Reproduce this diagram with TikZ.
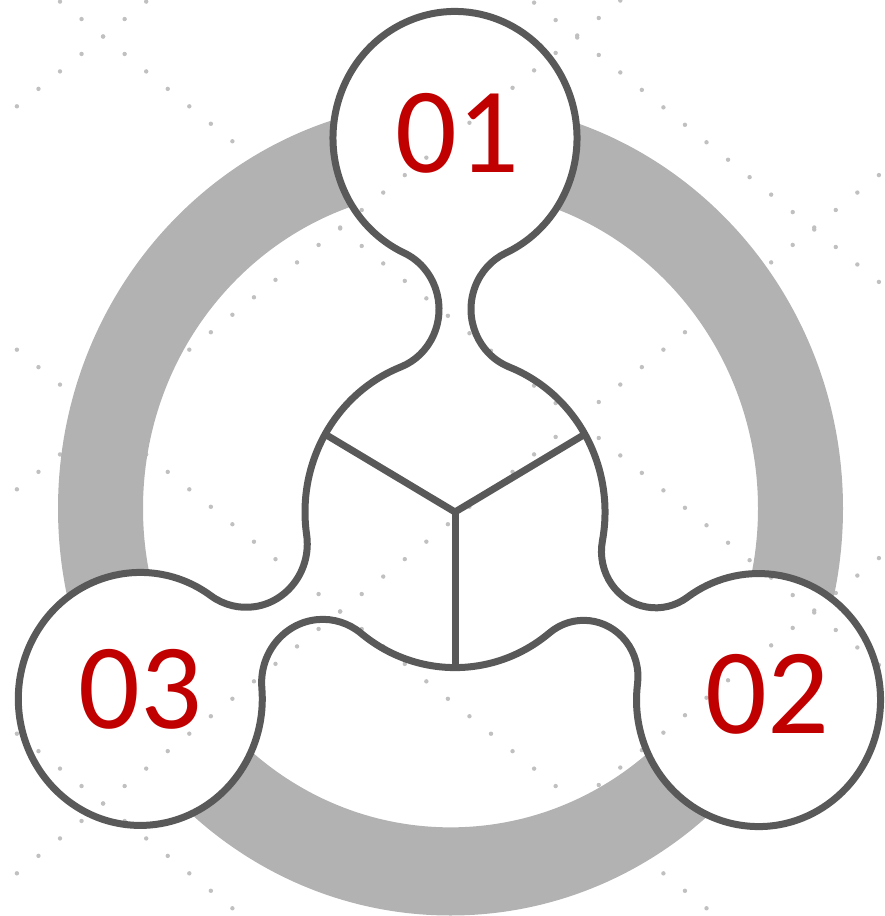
\documentclass[tikz,border=0pt]{standalone}
\usepackage{fontspec}
\setmainfont{Carlito}
\definecolor{ringgray}{RGB}{178,178,178}
\definecolor{linegray}{RGB}{89,89,89}
\definecolor{numred}{RGB}{192,0,0}
\definecolor{dotgray}{RGB}{192,192,192}
\tikzset{
  outline/.style={draw=linegray, line width=7pt},
  bgdot/.style={fill=dotgray},
  numtext/.style={text=numred, font=\fontsize{122}{122}\selectfont, inner sep=0pt, anchor=base}
}
\begin{document}
\begin{tikzpicture}[x=1pt,y=1pt]
\useasboundingbox (0,0) rectangle (884,-916);
\clip (0,0) rectangle (884,-916);
% background dotted lattice
\foreach \c in {-430,-47,336,720}{
  \foreach \n in {-3,...,39}{
    \fill[bgdot] ({60+21.55*\n},{-(\c+0.81*(60+21.55*\n))}) circle (2.2);
  }
}
\foreach \d in {120,503,887,1270}{
  \foreach \n in {-3,...,39}{
    \fill[bgdot] ({60+21.55*\n},{-(\d-0.81*(60+21.55*\n))}) circle (2.2);
  }
}
\begin{scope}[shift={(455,-512)}, yscale=1.037]
  \coordinate (ctr) at (0,0);
  \coordinate (c1) at (90:360.7);
  \coordinate (c3) at (209.8:362.7);
  \coordinate (c2) at (-30.85:353.5);
  \coordinate (ringc) at (-4.5,3.4);
  % ring, hidden inside the three circles
  \begin{scope}[even odd rule]
    \clip (-1000,-1000) rectangle (1000,1000)
      (c1) circle (122) (c2) circle (122) (c3) circle (122);
    \fill[ringgray] (ringc) circle (392.5) (ringc) circle (307.5);
  \end{scope}
  % blob outline
  \draw[outline] (68.84:150)
    % arm 01
    arc[start angle=248.84, end angle=114.62, radius=59.68]
    arc[start angle=-65.38, end angle=245.38, radius=122]
    arc[start angle=65.38, end angle=-68.84, radius=59.68]
    arc[start angle=111.16, end angle=188.37, radius=150]
    % arm 03
    arc[start angle=368.37, end angle=234.72, radius=61.17]
    arc[start angle=54.72, end angle=364.88, radius=122]
    arc[start angle=184.88, end angle=51.23, radius=61.17]
    arc[start angle=231.23, end angle=309.02, radius=150]
    % arm 02
    arc[start angle=489.02, end angle=352.65, radius=54.32]
    arc[start angle=172.65, end angle=485.65, radius=122]
    arc[start angle=305.65, end angle=169.28, radius=54.32]
    arc[start angle=349.28, end angle=428.84, radius=150]
    -- cycle;
  \coordinate (y1) at (150:150);
  \coordinate (y2) at (30:150);
  \coordinate (y3) at (270:150);
  \draw[outline] (ctr) -- (y1);
  \draw[outline] (ctr) -- (y2);
  \draw[outline] (ctr) -- (y3);
\end{scope}
\node[numtext] (n1) at (457,-172) {01};
\node[numtext] (n2) at (767,-733) {02};
\node[numtext] (n3) at (140,-728) {03};
\end{tikzpicture}
\end{document}
